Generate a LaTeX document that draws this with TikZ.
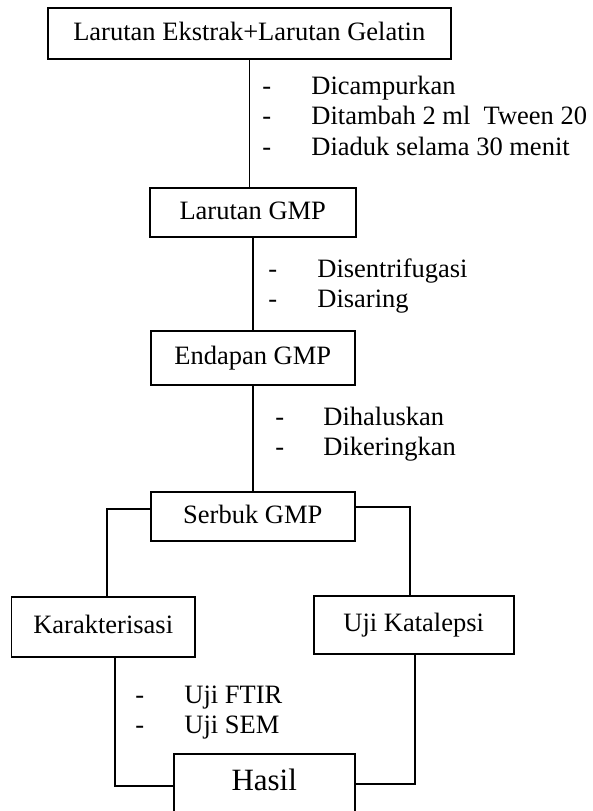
\documentclass[tikz,border=0pt]{standalone}
\usepackage{fontspec}
\setmainfont{Liberation Serif}
\begin{document}
\begin{tikzpicture}[x=0.5pt,y=-0.5pt,
  box/.style={draw, line width=0.75pt, inner sep=0pt, anchor=north west, text height=0.72em, text depth=0pt, font=\fontsize{13.25}{15.5}\selectfont},
  steps/.style={anchor=base west, inner sep=0pt, font=\fontsize{13.25}{15.25}\selectfont},
  conn/.style={draw, line width=0.75pt}]
\useasboundingbox (0,0) rectangle (593,811);
\clip (0,0) rectangle (593,811);

\node[box, minimum width=201.5pt, minimum height=25.5pt] (top) at (47,7) {Larutan Ekstrak+Larutan Gelatin};
\node[box, minimum width=103pt, minimum height=24.5pt] (lgmp) at (149,187) {Larutan GMP};
\node[box, minimum width=102pt, minimum height=27pt] (endapan) at (150,330) {Endapan GMP};
\node[box, minimum width=102pt, minimum height=24.5pt] (serbuk) at (150,491) {Serbuk GMP};
\node[box, minimum width=91.5pt, minimum height=30pt] (karak) at (11,596) {Karakterisasi};
\node[box, minimum width=100pt, minimum height=29pt] (uji) at (313,595) {Uji Katalepsi};
\node[box, minimum width=90.5pt, minimum height=30pt, font=\fontsize{15.5}{18}\selectfont] (hasil) at (173,753) {Hasil};

\node[steps] (s1) at (262,94) {\begin{tabular}[t]{@{}p{24.5pt}@{}l@{}}-&Dicampurkan\\-&Ditambah 2 ml\ \ Tween 20\\-&Diaduk selama 30 menit\end{tabular}};
\node[steps] (s2) at (268,277) {\begin{tabular}[t]{@{}p{24.5pt}@{}l@{}}-&Disentrifugasi\\-&Disaring\end{tabular}};
\node[steps] (s3) at (275,425) {\begin{tabular}[t]{@{}p{24pt}@{}l@{}}-&Dihaluskan\\-&Dikeringkan\end{tabular}};
\node[steps] (s4) at (135,703) {\begin{tabular}[t]{@{}p{24.5pt}@{}l@{}}-&Uji FTIR\\-&Uji SEM\end{tabular}};

\coordinate (kl) at (107,509);
\coordinate (ur) at (410,507);
\coordinate (kb) at (115,786);
\coordinate (ub) at (415,784);

\draw[conn] (top.south) -- (top.south |- lgmp.north);
\draw[conn] (lgmp.south) -- (endapan.north);
\draw[conn] (endapan.south) -- (serbuk.north);
\draw[conn] (serbuk.west |- kl) -- (kl) -- (kl |- karak.north);
\draw[conn] (serbuk.east |- ur) -- (ur) -- (ur |- uji.north);
\draw[conn] (kb |- karak.south) -- (kb) -- (kb -| hasil.west);
\draw[conn] (ub |- uji.south) -- (ub) -- (ub -| hasil.east);
\end{tikzpicture}
\end{document}
